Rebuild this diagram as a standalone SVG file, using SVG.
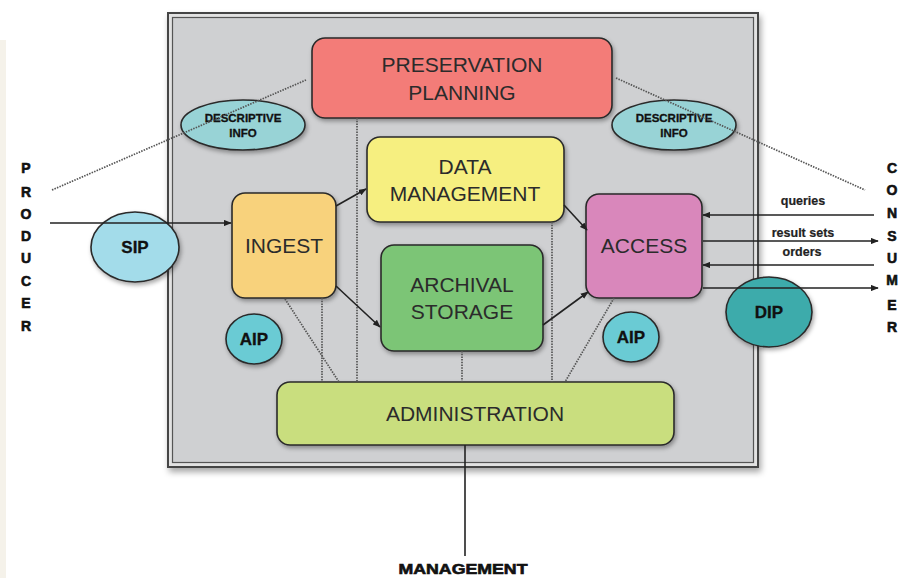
<svg xmlns="http://www.w3.org/2000/svg" width="902" height="578" viewBox="0 0 902 578">
  <defs>
    <style>
      .box { stroke: #2a2a2a; stroke-width: 1.6; filter: url(#shadow); }
      .pkg { stroke: #2a2a2a; stroke-width: 1.6; filter: url(#shadow); }
      .label { font-family: "Liberation Sans", Arial, sans-serif; font-size: 21px; fill: #2b2b2b; text-anchor: middle; }
      .pkgtext { font-family: "Liberation Sans", Arial, sans-serif; font-weight: bold; fill: #111; text-anchor: middle; stroke: #111; stroke-width: 0.3; }
      .side { font-family: "Liberation Sans", Arial, sans-serif; font-weight: bold; font-size: 14px; fill: #111; stroke: #111; stroke-width: 0.6; text-anchor: middle; }
      .flow { font-family: "Liberation Sans", Arial, sans-serif; font-weight: bold; font-size: 12.5px; fill: #222; stroke: #222; stroke-width: 0.2; text-anchor: middle; }
      .solid { stroke: #222; stroke-width: 1.6; fill: none; }
      .dotted { stroke: #555; stroke-width: 1.7; fill: none; stroke-dasharray: 1.5 1.2; }
    </style>
    <filter id="shadow" x="-20%" y="-20%" width="140%" height="150%">
      <feDropShadow dx="1.5" dy="2.5" stdDeviation="2" flood-color="#000" flood-opacity="0.35"/>
    </filter>
    <filter id="frameShadow" x="-5%" y="-5%" width="110%" height="115%">
      <feDropShadow dx="2" dy="4" stdDeviation="3" flood-color="#000" flood-opacity="0.35"/>
    </filter>
    <marker id="arrow" viewBox="0 0 10 8" refX="9" refY="4" markerWidth="8" markerHeight="6.5" orient="auto" markerUnits="userSpaceOnUse">
      <path d="M0,0 L10,4 L0,8 z" fill="#222"/>
    </marker>
  </defs>

  <!-- page background and left margin strip -->
  <rect x="0" y="0" width="902" height="578" fill="#ffffff"/>
  <rect x="0" y="40" width="6" height="538" fill="#f5f2ea"/>

  <!-- archive system boundary (double frame) -->
  <g id="archive-frame">
    <rect x="168" y="13" width="590" height="454" fill="#e2e2e2" stroke="#444" stroke-width="2" filter="url(#frameShadow)"/>
    <rect x="172.5" y="17.5" width="581" height="445" fill="#cfd0d2" stroke="#555" stroke-width="1.2"/>
  </g>

  <!-- functional entities -->
  <g id="preservation-planning">
    <rect class="box" x="312" y="38" width="300" height="80" rx="13" fill="#f37b78"/>
    <text class="label" x="462" y="72">PRESERVATION</text>
    <text class="label" x="462" y="100">PLANNING</text>
  </g>

  <g id="data-management">
    <rect class="box" x="367" y="137" width="197" height="85" rx="13" fill="#f6ef80"/>
    <text class="label" x="465" y="174">DATA</text>
    <text class="label" x="465" y="201">MANAGEMENT</text>
  </g>

  <g id="ingest">
    <rect class="box" x="232" y="193" width="104" height="105" rx="13" fill="#f8d27b"/>
    <text class="label" x="284" y="253">INGEST</text>
  </g>

  <g id="archival-storage">
    <rect class="box" x="381" y="245" width="162" height="106" rx="13" fill="#7cc576"/>
    <text class="label" x="462" y="292">ARCHIVAL</text>
    <text class="label" x="462" y="319">STORAGE</text>
  </g>

  <g id="access">
    <rect class="box" x="586" y="194" width="116" height="104" rx="13" fill="#d987bb"/>
    <text class="label" x="644" y="253">ACCESS</text>
  </g>

  <g id="administration">
    <rect class="box" x="277" y="382" width="397" height="63" rx="13" fill="#c9de7e"/>
    <text class="label" x="475" y="421">ADMINISTRATION</text>
  </g>

  <!-- information packages -->
  <g id="descriptive-info-left">
    <ellipse class="pkg" cx="243" cy="125" rx="62" ry="25" fill="#98d3d6"/>
    <text class="pkgtext" x="243" y="122" font-size="11.5">DESCRIPTIVE</text>
    <text class="pkgtext" x="243" y="137" font-size="11.5">INFO</text>
  </g>

  <g id="descriptive-info-right">
    <ellipse class="pkg" cx="674" cy="125" rx="62" ry="25" fill="#98d3d6"/>
    <text class="pkgtext" x="674" y="122" font-size="11.5">DESCRIPTIVE</text>
    <text class="pkgtext" x="674" y="137" font-size="11.5">INFO</text>
  </g>

  <g id="sip">
    <ellipse class="pkg" cx="135" cy="247" rx="44" ry="35" fill="#a3dcea"/>
    <text class="pkgtext" x="135" y="253" font-size="17">SIP</text>
  </g>

  <g id="aip-left">
    <ellipse class="pkg" cx="254" cy="339" rx="28" ry="25" fill="#6acbd4"/>
    <text class="pkgtext" x="254" y="345" font-size="17">AIP</text>
  </g>

  <g id="aip-right">
    <ellipse class="pkg" cx="631" cy="337" rx="28" ry="25" fill="#6acbd4"/>
    <text class="pkgtext" x="631" y="343" font-size="17">AIP</text>
  </g>

  <g id="dip">
    <ellipse class="pkg" cx="769" cy="312" rx="43" ry="35" fill="#3eabab"/>
    <text class="pkgtext" x="769" y="318" font-size="17">DIP</text>
  </g>

  <!-- connectors -->
  <g id="connectors">
    <!-- descriptive information links -->
    <line class="dotted" x1="52" y1="190" x2="306" y2="80"/>
    <line class="dotted" x1="616" y1="78" x2="865" y2="190"/>
    <!-- administration / planning links -->
    <line class="dotted" x1="357" y1="118" x2="357" y2="382"/>
    <line class="dotted" x1="552" y1="222" x2="552" y2="382"/>
    <line class="dotted" x1="322" y1="298" x2="322" y2="382"/>
    <line class="dotted" x1="285" y1="299" x2="339" y2="382" stroke-width="1.2"/>
    <line class="dotted" x1="462" y1="351" x2="462" y2="382"/>
    <line class="dotted" x1="614" y1="298" x2="565" y2="382" stroke-width="1.2"/>

    <!-- internal data flows -->
    <line class="solid" x1="336" y1="206" x2="366" y2="189" marker-end="url(#arrow)"/>
    <line class="solid" x1="336" y1="286" x2="380" y2="327" marker-end="url(#arrow)"/>
    <line class="solid" x1="564" y1="205" x2="587" y2="230" marker-end="url(#arrow)"/>
    <line class="solid" x1="543" y1="325" x2="588" y2="292" marker-end="url(#arrow)"/>

    <!-- producer submission -->
    <line class="solid" x1="50" y1="223" x2="231" y2="223" marker-end="url(#arrow)"/>

    <!-- consumer exchanges -->
    <line class="solid" x1="874" y1="215" x2="703" y2="215" marker-end="url(#arrow)"/>
    <line class="solid" x1="703" y1="241" x2="878" y2="241" marker-end="url(#arrow)"/>
    <line class="solid" x1="874" y1="265" x2="703" y2="265" marker-end="url(#arrow)"/>
    <line class="solid" x1="703" y1="288" x2="878" y2="288" marker-end="url(#arrow)"/>

    <!-- management link -->
    <line class="solid" x1="465" y1="445" x2="465" y2="556" stroke="#444" stroke-width="2"/>
  </g>

  <!-- flow labels -->
  <g id="flow-labels">
    <text class="flow" x="803" y="205">queries</text>
    <text class="flow" x="803" y="237">result sets</text>
    <text class="flow" x="802" y="256">orders</text>
  </g>

  <!-- external actors -->
  <g id="producer">
    <text class="side" x="26" y="173">P</text>
    <text class="side" x="26" y="197">R</text>
    <text class="side" x="26" y="219">O</text>
    <text class="side" x="26" y="241">D</text>
    <text class="side" x="26" y="263">U</text>
    <text class="side" x="26" y="286">C</text>
    <text class="side" x="26" y="308">E</text>
    <text class="side" x="26" y="331">R</text>
  </g>

  <g id="consumer">
    <text class="side" x="892" y="173">C</text>
    <text class="side" x="892" y="195">O</text>
    <text class="side" x="892" y="218">N</text>
    <text class="side" x="892" y="241">S</text>
    <text class="side" x="892" y="263">U</text>
    <text class="side" x="892" y="285">M</text>
    <text class="side" x="892" y="310">E</text>
    <text class="side" x="892" y="332">R</text>
  </g>

  <g id="management">
    <text class="side" x="463" y="574" font-size="17" textLength="129" lengthAdjust="spacingAndGlyphs">MANAGEMENT</text>
  </g>
</svg>
